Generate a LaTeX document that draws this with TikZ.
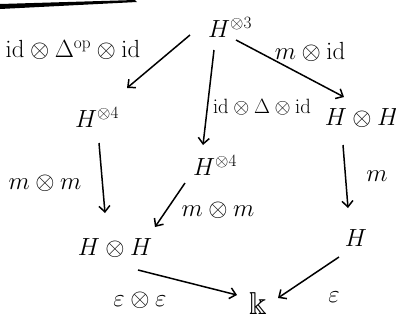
\documentclass[tikz,border=0pt]{standalone}
\usepackage{amssymb}
\usetikzlibrary{arrows.meta,calc}
\begin{document}
\begin{tikzpicture}[x=1bp,y=-1bp,
  obj/.style={font=\fontsize{25}{29}\selectfont, inner sep=1bp},
  lab/.style={font=\fontsize{24}{28}\selectfont, inner sep=0bp},
  arr/.style={line width=1.5bp, -{Straight Barb[length=6bp,width=11bp,line width=1.5bp]}}]
\useasboundingbox (0,0) rectangle (396,320);
\fill[white] (0,0) rectangle (396,320);
% scan edge at the top
\fill[black] (0,4) -- (135,0) -- (137,2) -- (0,9) -- cycle;
% objects
\node[obj] (H3)  at (230,27)  {$H^{\otimes 3}$};
\node[obj] (H4L) at (97,117)  {$H^{\otimes 4}$};
\node[obj] (H4M) at (215,165) {$H^{\otimes 4}$};
\node[obj] (HHR) at (362,118) {$H\otimes H$};
\node[obj] (HHL) at (115,248) {$H\otimes H$};
\node[obj] (HR)  at (356,238) {$H$};
\node[obj, font=\fontsize{32}{36}\selectfont] (k) at (258,304) {$\Bbbk$};
% arrows
\draw[arr] ($(H3)+(-40,8)$) -- ($(H4L)+(30,-29)$);
\draw[arr] ($(H3)+(-16,23)$) -- ($(H4M)+(-12,-20)$);
\draw[arr] ($(H3)+(6,13)$) -- ($(HHR)+(-18,-21)$);
\draw[arr] ($(H4L)+(2,26)$) -- ($(HHL)+(-10,-35)$);
\draw[arr] ($(H4M)+(-30,18)$) -- ($(HHL)+(40,-21)$);
\draw[arr] ($(HHR)+(-19,27)$) -- ($(HR)+(-8,-30)$);
\draw[arr] ($(HHL)+(23,22)$) -- ($(k)+(-21,-9)$);
\draw[arr] ($(HR)+(-17,19)$) -- ($(k)+(20,-6)$);
% labels
\node[lab] (l1) at (73,50)   {$\mathrm{id}\otimes\Delta^{\mathrm{op}}\otimes\mathrm{id}$};
\node[lab, font=\fontsize{20}{24}\selectfont] (l2) at (262,107) {$\mathrm{id}\otimes\Delta\otimes\mathrm{id}$};
\node[lab] (l3) at (310,52)  {$m\otimes\mathrm{id}$};
\node[lab] (l4) at (45,183)  {$m\otimes m$};
\node[lab] (l5) at (218,210) {$m\otimes m$};
\node[lab] (l6) at (377,176) {$m$};
\node[lab] (l7) at (140,300) {$\varepsilon\otimes\varepsilon$};
\node[lab] (l8) at (334,297) {$\varepsilon$};
\end{tikzpicture}
\end{document}
